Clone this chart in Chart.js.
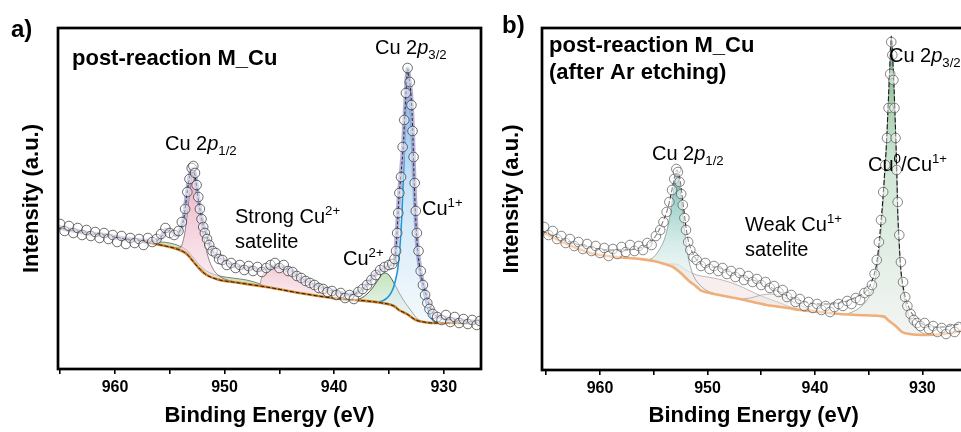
<!DOCTYPE html>
<html>
<head>
<meta charset="utf-8">
<script src="https://cdn.jsdelivr.net/npm/chart.js@4.4.1/dist/chart.umd.min.js"></script>
<style>
  html, body { margin: 0; padding: 0; background: #fff; overflow: hidden; }
  #wrap { position: relative; width: 961px; height: 432px; overflow: hidden; }
  #pa { position: absolute; left: 0; top: 0; }
  #pb { position: absolute; left: 490px; top: 0; }
</style>
</head>
<body>
<div id="wrap">
  <canvas id="pa" width="490" height="432"></canvas>
  <canvas id="pb" width="481" height="432"></canvas>
</div>
<script>
// ---- panel a : post-reaction M_Cu ----
const aRawE = [965.0,964.6,964.2,963.8,963.4,963.0,962.6,962.2,961.8,961.4,961.0,960.6,960.2,959.8,959.4,959.0,958.6,958.2,957.8,957.4,957.0,956.6,956.2,955.8,955.4,955.0,954.6,954.2,953.9,953.6,953.4,953.2,953.0,952.85,952.7,952.55,952.4,952.25,952.1,951.95,951.8,951.6,951.4,951.1,950.8,950.5,950.2,949.8,949.4,949.0,948.6,948.2,947.8,947.4,947.0,946.6,946.2,945.8,945.4,945.0,944.6,944.2,943.8,943.4,943.0,942.6,942.2,941.8,941.4,941.0,940.6,940.2,939.8,939.4,939.0,938.6,938.2,937.8,937.4,937.0,936.6,936.2,935.8,935.4,935.0,934.7,934.5,934.35,934.25,934.15,934.05,933.9,933.75,933.6,933.45,933.3,933.1,932.95,932.85,932.75,932.65,932.55,932.45,932.3,932.1,931.9,931.7,931.5,931.3,931.0,930.6,930.2,929.8,929.4,929.0,928.6,928.2,927.8,927.4,927.0,926.7];
const aRawI = [145,138,143,136,141,134,139,133,137,131,136,130,134,127,133,125,131,126,130,124,131,127,130,135,141,136,134,138,147,160,177,190,201,203,196,184,172,160,150,142,136,130,124,118,116,110,109,104,106,101,104,99,103,98,102,97,101,104,106,101,104,98,97,93,91,88,86,84,81,80,77,78,74,76,71,74,70,77,80,84,89,94,99,102,104,105,110,118,136,156,176,192,222,249,276,301,287,264,238,212,186,158,136,118,98,84,74,66,60,55,52,49,54,47,52,46,50,45,49,44,48];

const aFitE = [965.2,964,963,962,961,960,959,958,957,956.3,955.8,955.3,954.8,954.4,954.0,953.7,953.4,953.1,952.9,952.7,952.4,952.0,951.6,951.2,950.8,950.3,949.5,948.5,947.5,946.8,946.0,945.3,944.5,944.0,943.2,942.3,941.5,940.5,939.5,938.6,937.8,937.1,936.5,935.9,935.3,934.8,934.5,934.3,934.1,933.9,933.7,933.55,933.4,933.3,933.15,933.0,932.85,932.7,932.55,932.4,932.1,931.8,931.5,931.2,930.8,930.0,929.0,928.0,927.0,926.6];
const aFitI = [142,139,137,135,134,132,130,129,128,128,132,139,137,134,140,152,178,197,200,194,170,146,132,120,114,110,105,102,101,99,101,103,101,99,92,87,83,79,76,74,77,83,91,98,102,104,106,130,170,195,222,255,285,300,290,276,245,190,150,122,96,82,70,60,54,51,49,48,47,48];

const aBgE = [965.2,963.2,960.0,956.8,955.0,954.1,953.45,952.9,952.27,951.64,950.45,949.27,946.18,943.18,940.18,935.64,934.55,934.09,933.36,932.55,931.82,931.09,926.6];
const aBgI = [141,137,132,126,122,119,115,108,100,94,89,87,82,76,71,66,63,59,55,49,47,46,46];

const aGrnE = [956.8,956.0,955.0,954.1,953.45,952.9,952.27,951.64,950.45,949.27,948.0,947.0,946.3];
const aGrnI = [126,127,126,123,119,112,104,98,93,91,89,86,83];

const aP12E = [954.6,954.1,953.7,953.4,953.15,952.95,952.8,952.6,952.35,952.1,951.8,951.5,951.1,950.6,950.0,949.3];
const aP12I = [121,121,132,155,180,196,197,186,165,145,126,112,101,94,90,87.5];

const aSatE = [946.8,946.6,946.0,945.3,944.6,944.0,943.2,942.3,941.3,940.3,939.3,938.3,937.3,936.5];
const aSatI = [83,92,98,101,99,96,90,85,80,76,72,69,68,67];

const aCu2E = [938.2,937.5,937.0,936.5,936.0,935.5,935.1,934.7,934.3,933.9,933.5,933.1,932.7,932.3,931.9];
const aCu2I = [69,71,75,81,89,96,95,89,81,73,66,60,54,49,47];

const aCu1E = [936.2,935.6,935.0,934.6,934.4,934.2,934.0,933.8,933.6,933.45,933.3,933.15,933.0,932.85,932.7,932.55,932.35,932.1,931.8,931.5,931.2,930.8,930.4];
const aCu1I = [67,68,73,81,89,100,122,160,215,265,296,280,250,210,170,135,108,91,75,62,52,47,46];

// ---- panel b : after Ar etching ----
const bRawE = [965.2,964.8,964.4,964.0,963.6,963.2,962.8,962.4,962.0,961.6,961.2,960.8,960.4,960.0,959.6,959.2,958.8,958.4,958.0,957.6,957.2,956.8,956.4,956.0,955.6,955.2,954.8,954.4,954.1,953.8,953.55,953.3,953.1,952.9,952.75,952.6,952.45,952.3,952.15,952.0,951.8,951.6,951.3,951.0,950.6,950.2,949.8,949.4,949.0,948.6,948.2,947.8,947.4,947.0,946.6,946.2,945.8,945.4,945.0,944.6,944.2,943.8,943.4,943.0,942.6,942.2,941.8,941.4,941.0,940.6,940.2,939.8,939.4,939.0,938.6,938.2,937.8,937.4,937.0,936.6,936.2,935.8,935.4,935.0,934.7,934.45,934.25,934.05,933.85,933.65,933.45,933.3,933.15,933.0,932.9,932.8,932.7,932.6,932.5,932.4,932.3,932.15,932.0,931.8,931.6,931.4,931.1,930.8,930.5,930.2,929.8,929.4,929.0,928.6,928.2,927.8,927.4,927.0,926.6];
const bRawI = [143,135,139,131,134,127,131,124,128,121,126,119,124,117,122,114,121,116,123,118,125,119,124,120,127,125,134,140,148,158,168,180,191,201,198,188,176,165,152,140,128,120,113,110,104,107,101,104,99,102,96,99,93,97,90,94,88,91,85,88,82,84,78,80,73,75,68,71,64,68,62,66,60,64,58,63,66,64,69,66,72,70,77,79,85,96,110,128,150,178,205,232,262,296,328,315,290,262,232,200,168,135,108,88,73,64,56,50,47,44,47,41,44,38,42,36,41,38,43];

const bFitE = [965.4,964,962.5,961,959.4,958,956.3,955.5,955.1,954.6,954.2,953.8,953.5,953.2,953.0,952.85,952.7,952.55,952.4,952.2,952.0,951.8,951.5,951.2,950.7,950.0,948.9,947.7,946.5,945.5,944.5,943.5,942.5,941.5,940.5,939.8,938.8,937.7,936.8,935.9,935.3,934.9,934.6,934.3,934.1,933.9,933.7,933.5,933.35,933.2,933.05,932.9,932.78,932.65,932.5,932.4,932.3,932.15,932.0,931.8,931.6,931.4,931.0,930.6,930.0,929.1,928.0,927.0,926.0];
const bFitI = [139,133,127,123,120,120,122,126,130,138,147,158,170,186,196,200,197,190,178,160,143,130,120,113,107,104,102,97,93,89,85,79,74,70,67,66,66,67,70,74,78,84,92,104,120,143,168,200,225,262,300,334,315,285,240,205,160,125,100,84,73,66,57,50,46,43,43,45,47];

const bBgE = [965.4,963.5,960.9,958.5,956.3,955.0,954.0,953.2,952.6,952.1,951.6,951.1,950.7,949.8,948.9,947.0,944.5,942.5,941.4,939.5,937.7,936.0,934.0,933.5,933.1,932.6,932.2,931.9,931.2,929.6,928.0,927.0,926.0];
const bBgI = [138,128,117,113,111,109,106,103,98,93,88,84,80,77,75,71,65,62,60,58,56,55,54,53,49,45,41,38,36,35,36,38,40];

const bP12E = [955.5,955.0,954.5,954.0,953.6,953.3,953.05,952.85,952.65,952.45,952.25,952.05,951.8,951.5,951.2,950.8,950.3,949.8,949.2];
const bP12I = [110,113,120,131,148,168,188,197,190,173,152,132,113,100,92,86,81,78,76];

const bSat1E = [954.0,953.0,952.0,951.0,950.0,949.0,948.0,947.0,946.0,945.0,944.0,943.0,942.0,941.0,940.0];
const bSat1I = [106,106,100,95,93,91,88,84,79,74,70,66,62,60,59];

const bSat2E = [947.0,946.0,945.0,944.0,943.0,942.0,941.0,940.0,939.0];
const bSat2I = [71,72,75,76,73,68,63,59,57.5];

const bP32E = [937.0,936.0,935.3,934.8,934.4,934.1,933.85,933.6,933.4,933.2,933.05,932.9,932.78,932.65,932.5,932.4,932.3,932.15,932.0,931.8,931.6,931.3,931.0,930.5,930.0,929.4];
const bP32I = [56,61,68,77,90,112,140,178,215,260,298,333,314,284,238,203,158,122,97,80,68,56,48,41,37,35];

// ---- helpers ----
const FONT = '"Liberation Sans", Arial, Helvetica, sans-serif';

function pts(xs, ys) {
  return xs.map((x, i) => ({ x: x, y: ys[i] }));
}

function curve(xs, ys, extra) {
  return Object.assign({
    type: 'line',
    data: pts(xs, ys),
    pointRadius: 0,
    borderWidth: 1,
    fill: false,
    cubicInterpolationMode: 'monotone'
  }, extra);
}

function raw(xs, ys, color) {
  return {
    type: 'scatter',
    data: pts(xs, ys),
    showLine: false,
    pointRadius: 4.8,
    pointBorderWidth: 0.8,
    pointBorderColor: color,
    pointBackgroundColor: 'rgba(255,255,255,0.45)'
  };
}

// vertical gradient between two intensity levels
function vgrad(hi, lo, stops) {
  return function (c) {
    const chart = c.chart;
    const y = chart.scales.y;
    if (!chart.chartArea || !y) return stops[0][1];
    const g = chart.ctx.createLinearGradient(0, y.getPixelForValue(hi), 0, y.getPixelForValue(lo));
    stops.forEach(s => g.addColorStop(s[0], s[1]));
    return g;
  };
}

const framePlugin = {
  id: 'frame',
  afterDatasetsDraw(chart) {
    const { ctx, chartArea: a } = chart;
    ctx.save();
    ctx.lineWidth = 2.7;
    ctx.strokeStyle = '#000';
    ctx.strokeRect(a.left, a.top, a.right - a.left, a.bottom - a.top);
    ctx.restore();
  }
};

function textPlugin(items) {
  return {
    id: 'panelText',
    afterDraw(chart) {
      const ctx = chart.ctx;
      ctx.save();
      ctx.fillStyle = '#000';
      ctx.textBaseline = 'alphabetic';
      items.forEach(it => {
        let x = it.x;
        it.parts.forEach(p => {
          let size = it.size, dy = 0, style = '';
          if (p[1] === 'i') style = 'italic ';
          if (p[1] === 'sub') { size = it.size * 0.66; dy = it.size * 0.27; }
          if (p[1] === 'sup') { size = it.size * 0.66; dy = -it.size * 0.42; }
          ctx.font = style + (it.bold ? 'bold ' : '') + size + 'px ' + FONT;
          ctx.fillText(p[0], x, it.y + dy);
          x += ctx.measureText(p[0]).width;
        });
      });
      ctx.restore();
    }
  };
}

function makePanel(id, p) {
  return new Chart(document.getElementById(id), {
    type: 'line',
    data: { datasets: p.datasets },
    options: {
      responsive: false,
      animation: false,
      events: [],
      devicePixelRatio: 1,
      layout: { padding: { top: 28, right: p.rightPad, left: 0, bottom: 0 } },
      plugins: { legend: { display: false }, tooltip: { enabled: false } },
      scales: {
        x: {
          type: 'linear',
          reverse: true,
          min: p.xMin,
          max: p.xMax,
          afterFit(s) { s.height = p.bottomH; },
          afterBuildTicks(s) {
            s.ticks = s.ticks.filter(t => Math.abs(Math.round(t.value) - t.value) < 1e-6 && Math.round(t.value) % 5 === 0);
          },
          border: { display: false },
          grid: { drawOnChartArea: false, drawTicks: true, tickLength: 5, color: '#000', lineWidth: 1.6 },
          ticks: {
            stepSize: 5,
            includeBounds: false,
            autoSkip: false,
            maxRotation: 0,
            padding: 4,
            color: '#000',
            font: { family: FONT, size: 16, weight: 'bold' },
            callback: v => (Math.round(v) % 10 === 0 ? Math.round(v) : '')
          },
          title: {
            display: true,
            text: 'Binding Energy (eV)',
            color: '#000',
            font: { family: FONT, size: 22, weight: 'bold' },
            padding: { top: 0, bottom: 3 }
          }
        },
        y: {
          min: 0,
          max: p.yMax,
          afterFit(s) { s.width = p.leftW; },
          border: { display: false },
          grid: { display: false },
          ticks: { display: false },
          title: {
            display: true,
            text: 'Intensity (a.u.)',
            color: '#000',
            font: { family: FONT, size: 22, weight: 'bold' },
            padding: { top: p.yTitlePad, bottom: 0 }
          }
        }
      }
    },
    plugins: [framePlugin, textPlugin(p.texts)]
  });
}

// ---- panel a ----
// dataset 4 is the background line; components fill down to it
makePanel('pa', {
  xMin: 926.6, xMax: 965.2, yMax: 341,
  leftW: 58, rightPad: 9, bottomH: 63, yTitlePad: 19,
  datasets: [
    raw(aRawE, aRawI, 'rgba(40,40,40,0.85)'),
    curve(aFitE, aFitI, { borderColor: '#2a2a2a', borderWidth: 1, borderDash: [3, 2] }),
    curve(aFitE, aFitI, { borderColor: 'rgba(170,170,215,0.9)', borderWidth: 4.5 }),
    curve(aBgE, aBgI, { borderColor: '#2a1a0a', borderWidth: 1, borderDash: [4, 2] }),
    curve(aBgE, aBgI, { borderColor: '#d2852c', borderWidth: 2.6 }),
    curve(aCu1E, aCu1I, { borderColor: '#1f95da', borderWidth: 1.6, fill: 4,
      backgroundColor: vgrad(300, 46, [[0, 'rgba(80,165,228,0.85)'], [0.45, 'rgba(170,212,242,0.65)'], [1, 'rgba(232,243,251,0.5)']]) }),
    curve(aCu2E, aCu2I, { borderColor: '#333', borderWidth: 0.8, fill: 4,
      backgroundColor: vgrad(96, 50, [[0, 'rgba(185,222,180,0.85)'], [1, 'rgba(225,240,222,0.6)']]) }),
    curve(aSatE, aSatI, { borderColor: 'rgba(120,90,100,0.7)', borderWidth: 0.8, fill: 4,
      backgroundColor: vgrad(101, 66, [[0, 'rgba(238,190,202,0.75)'], [1, 'rgba(248,226,232,0.55)']]) }),
    curve(aP12E, aP12I, { borderColor: 'rgba(90,70,80,0.8)', borderWidth: 0.8, fill: 4,
      backgroundColor: vgrad(197, 88, [[0, 'rgba(230,160,186,0.85)'], [1, 'rgba(248,224,232,0.6)']]) }),
    curve(aGrnE, aGrnI, { borderColor: 'rgba(60,70,50,0.8)', borderWidth: 0.8, fill: 4,
      backgroundColor: 'rgba(200,225,186,0.85)' })
  ],
  texts: [
    { x: 11, y: 37, size: 24, bold: true, parts: [['a)', '']] },
    { x: 72, y: 65, size: 22, bold: true, parts: [['post-reaction M_Cu', '']] },
    { x: 375, y: 54, size: 20, parts: [['Cu 2', ''], ['p', 'i'], ['3/2', 'sub']] },
    { x: 165, y: 150, size: 20, parts: [['Cu 2', ''], ['p', 'i'], ['1/2', 'sub']] },
    { x: 235, y: 223, size: 20, parts: [['Strong Cu', ''], ['2+', 'sup']] },
    { x: 235, y: 248, size: 20, parts: [['satelite', '']] },
    { x: 343, y: 265, size: 20, parts: [['Cu', ''], ['2+', 'sup']] },
    { x: 422, y: 215, size: 20, parts: [['Cu', ''], ['1+', 'sup']] }
  ]
});

// ---- panel b ----
// dataset 2 is the background line
makePanel('pb', {
  xMin: 926.0, xMax: 965.4, yMax: 342,
  leftW: 52, rightPad: 5, bottomH: 62, yTitlePad: 9,
  datasets: [
    raw(bRawE, bRawI, 'rgba(70,70,70,0.8)'),
    curve(bFitE, bFitI, { borderColor: '#1a1a1a', borderWidth: 1.1, borderDash: [5, 2] }),
    curve(bBgE, bBgI, { borderColor: '#f0ae78', borderWidth: 2.6 }),
    curve(bP32E, bP32I, { borderColor: 'rgba(120,130,120,0.8)', borderWidth: 0.8, fill: 2,
      backgroundColor: vgrad(333, 36, [[0, 'rgba(105,172,120,0.95)'], [0.45, 'rgba(190,222,198,0.7)'], [1, 'rgba(238,240,238,0.7)']]) }),
    curve(bP12E, bP12I, { borderColor: 'rgba(120,130,128,0.8)', borderWidth: 0.8, fill: 2,
      backgroundColor: vgrad(198, 80, [[0, 'rgba(105,182,172,0.95)'], [0.6, 'rgba(200,230,226,0.75)'], [1, 'rgba(240,244,244,0.5)']]) }),
    curve(bSat2E, bSat2I, { borderColor: 'rgba(150,150,150,0.8)', borderWidth: 0.8, fill: 2,
      backgroundColor: 'rgba(236,228,228,0.4)' }),
    curve(bSat1E, bSat1I, { borderColor: 'rgba(160,150,150,0.8)', borderWidth: 0.8, fill: 2,
      backgroundColor: 'rgba(242,222,222,0.5)' })
  ],
  texts: [
    { x: 12, y: 33, size: 24, bold: true, parts: [['b)', '']] },
    { x: 59, y: 52, size: 22, bold: true, parts: [['post-reaction M_Cu', '']] },
    { x: 59, y: 79, size: 22, bold: true, parts: [['(after Ar etching)', '']] },
    { x: 162, y: 160, size: 20, parts: [['Cu 2', ''], ['p', 'i'], ['1/2', 'sub']] },
    { x: 255, y: 231, size: 20, parts: [['Weak Cu', ''], ['1+', 'sup']] },
    { x: 255, y: 256, size: 20, parts: [['satelite', '']] },
    { x: 378, y: 171, size: 20, parts: [['Cu', ''], ['0', 'sup'], ['/Cu', ''], ['1+', 'sup']] },
    { x: 399, y: 62, size: 20, parts: [['Cu 2', ''], ['p', 'i'], ['3/2', 'sub']] }
  ]
});
</script>
</body>
</html>
